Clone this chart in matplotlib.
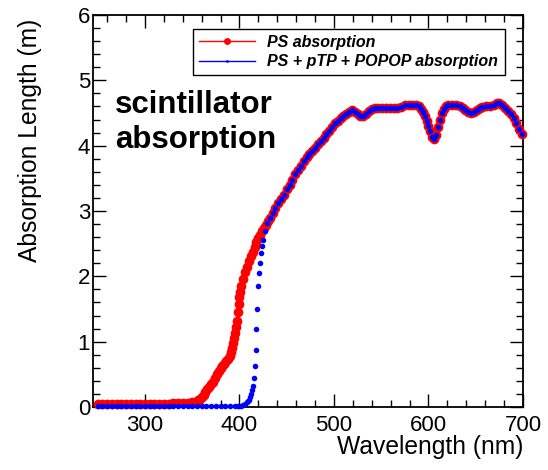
import matplotlib
matplotlib.use("Agg")
import matplotlib.pyplot as plt
from matplotlib.lines import Line2D
from matplotlib.ticker import MultipleLocator

plt.rcParams['font.family'] = ['Liberation Sans', 'DejaVu Sans']

# PS only, up to 430 nm
ps_wl_low = [250, 255, 260, 265, 270, 275, 280, 285, 290, 295, 300, 305, 310,
             315, 320, 325, 330, 335, 340, 345, 350, 355,
             356, 358, 360, 362, 364, 366, 368, 370, 372, 374, 376, 378, 380,
             382, 384, 386, 388, 390, 391, 392, 393, 394, 395, 396, 397, 398,
             399, 400, 401, 402, 404, 406, 408, 410, 412, 414, 416, 418, 420,
             422, 424, 426, 428, 430]
ps_abs_low = [0.04, 0.04, 0.04, 0.04, 0.04, 0.04, 0.05, 0.05, 0.05, 0.05, 0.05, 0.05, 0.05,
              0.05, 0.05, 0.05, 0.06, 0.06, 0.06, 0.06, 0.07, 0.08,
              0.10, 0.12, 0.15, 0.19, 0.23, 0.27, 0.31, 0.35, 0.39, 0.44, 0.50, 0.55, 0.60,
              0.63, 0.66, 0.70, 0.74, 0.78, 0.84, 0.90, 0.98, 1.06, 1.13, 1.22, 1.32, 1.45,
              1.58, 1.68, 1.76, 1.85, 1.96, 2.06, 2.15, 2.23, 2.31, 2.38, 2.45, 2.52, 2.58,
              2.64, 2.69, 2.74, 2.79, 2.85]

# PS + pTP + POPOP, up to 430 nm
mix_wl_low = [250, 255, 260, 265, 270, 275, 280, 285, 290, 295, 300, 305, 310, 315, 320,
              325, 330, 335, 340, 345, 350, 355, 360, 365, 370, 375, 380, 385, 390, 395,
              398, 400, 402, 404, 406, 408, 409, 410, 411, 412, 413, 414, 415, 416, 417,
              418, 419, 420, 421, 422, 423, 424, 425, 427, 429]
mix_abs_low = [0.01, 0.01, 0.01, 0.01, 0.01, 0.01, 0.01, 0.01, 0.01, 0.01, 0.01, 0.01, 0.01, 0.01, 0.01,
               0.01, 0.01, 0.01, 0.01, 0.01, 0.01, 0.01, 0.01, 0.01, 0.01, 0.01, 0.01, 0.01, 0.01, 0.01,
               0.01, 0.015, 0.02, 0.03, 0.045, 0.07, 0.09, 0.11, 0.15, 0.20, 0.26, 0.32, 0.45, 0.62, 0.88,
               1.20, 1.50, 1.85, 2.05, 2.20, 2.36, 2.47, 2.55, 2.70, 2.82]

# above 430 nm the two curves sit on top of each other
wl_high = [432, 435, 438, 441, 444, 447, 450, 453, 456, 459,
           462, 465, 468, 471, 474, 477, 480, 483, 486, 489,
           492, 495, 498, 501, 504, 507, 510, 513, 516, 519,
           522, 525, 528, 531, 534, 537, 540, 543,
           547, 551, 555, 559, 563, 567, 571, 575, 579, 583, 587,
           590, 592, 594, 596, 598, 600, 602, 604, 606, 608, 610, 612, 614, 616, 618,
           621, 625, 629, 633,
           636, 639, 642, 645, 648, 651, 654, 657,
           661, 665, 669,
           672, 675, 678, 681, 684, 687, 690, 693, 696, 699]
abs_high = [2.90, 2.97, 3.05, 3.12, 3.18, 3.25, 3.33, 3.40, 3.47, 3.56,
            3.63, 3.69, 3.76, 3.82, 3.87, 3.92, 3.97, 4.03, 4.07, 4.12,
            4.18, 4.23, 4.29, 4.34, 4.38, 4.43, 4.46, 4.49, 4.52, 4.54,
            4.52, 4.49, 4.46, 4.46, 4.49, 4.53, 4.56, 4.58,
            4.58, 4.58, 4.58, 4.58, 4.58, 4.58, 4.59, 4.62, 4.63, 4.63, 4.62,
            4.60, 4.56, 4.51, 4.45, 4.38, 4.30, 4.22, 4.14, 4.10, 4.16, 4.28, 4.40, 4.50, 4.56, 4.60,
            4.62, 4.62, 4.62, 4.61,
            4.58, 4.54, 4.51, 4.50, 4.51, 4.54, 4.57, 4.59,
            4.60, 4.61, 4.63,
            4.65, 4.66, 4.63, 4.58, 4.53, 4.48, 4.42, 4.34, 4.26, 4.18]

legend_labels = ["PS absorption", "PS + pTP + POPOP absorption"]


def main():
    ps_wl = ps_wl_low + wl_high
    ps_abs = ps_abs_low + abs_high
    mix_wl = mix_wl_low + wl_high
    mix_abs = mix_abs_low + abs_high

    fig = plt.figure(figsize=(5.48, 4.70), dpi=100)
    ax = fig.add_axes([93 / 548, 63 / 470, 430 / 548, 392 / 470])

    ax.plot(ps_wl, ps_abs, 'o', color='red', ms=7, mew=0, clip_on=False, zorder=3)
    ax.plot(mix_wl, mix_abs, 'o', color='blue', ms=4, mew=0, clip_on=False, zorder=4)

    ax.set_xlim(245, 700)
    ax.set_ylim(0, 6)
    ax.xaxis.set_major_locator(MultipleLocator(100))
    ax.xaxis.set_minor_locator(MultipleLocator(20))
    ax.yaxis.set_major_locator(MultipleLocator(1))
    ax.yaxis.set_minor_locator(MultipleLocator(0.2))
    ax.tick_params(which='both', direction='in', top=True, right=True, width=1)
    ax.tick_params(which='major', length=9.4)
    ax.tick_params(which='minor', length=5)
    ax.tick_params(axis='x', labelsize=16, pad=5.5)
    ax.tick_params(axis='y', labelsize=16, pad=2)
    for s in ax.spines.values():
        s.set_linewidth(1.3)

    ax.set_xlabel("Wavelength (nm)", fontsize=17.7, loc='right')
    ax.xaxis.set_label_coords(1.0, -0.072)
    ax.set_ylabel("Absorption Length (m)", fontsize=17.7, loc='top')
    ax.yaxis.set_label_coords(-0.119, 0.99)

    ax.text(0.051, 0.75, "scintillator", transform=ax.transAxes,
            fontsize=22.5, fontweight='bold', va='baseline')
    ax.text(0.051, 0.661, "absorption", transform=ax.transAxes,
            fontsize=22.5, fontweight='bold', va='baseline')

    handles = [Line2D([], [], color='red', marker='o', ms=5, lw=1, mew=0),
               Line2D([], [], color='blue', marker='o', ms=2, lw=1, mew=0)]
    leg = ax.legend(handles, legend_labels, loc='upper left',
                    bbox_to_anchor=(0.233, 0.847, 0.725, 0.117), mode='expand',
                    borderaxespad=0, prop={'weight': 'bold', 'style': 'italic', 'size': 11.5},
                    fancybox=False, framealpha=1, edgecolor='black',
                    handlelength=3.5, handletextpad=0.8, borderpad=0.35, labelspacing=0.3)
    leg.get_frame().set_linewidth(1)

    fig.savefig("out.png", dpi=100)


if __name__ == "__main__":
    main()
